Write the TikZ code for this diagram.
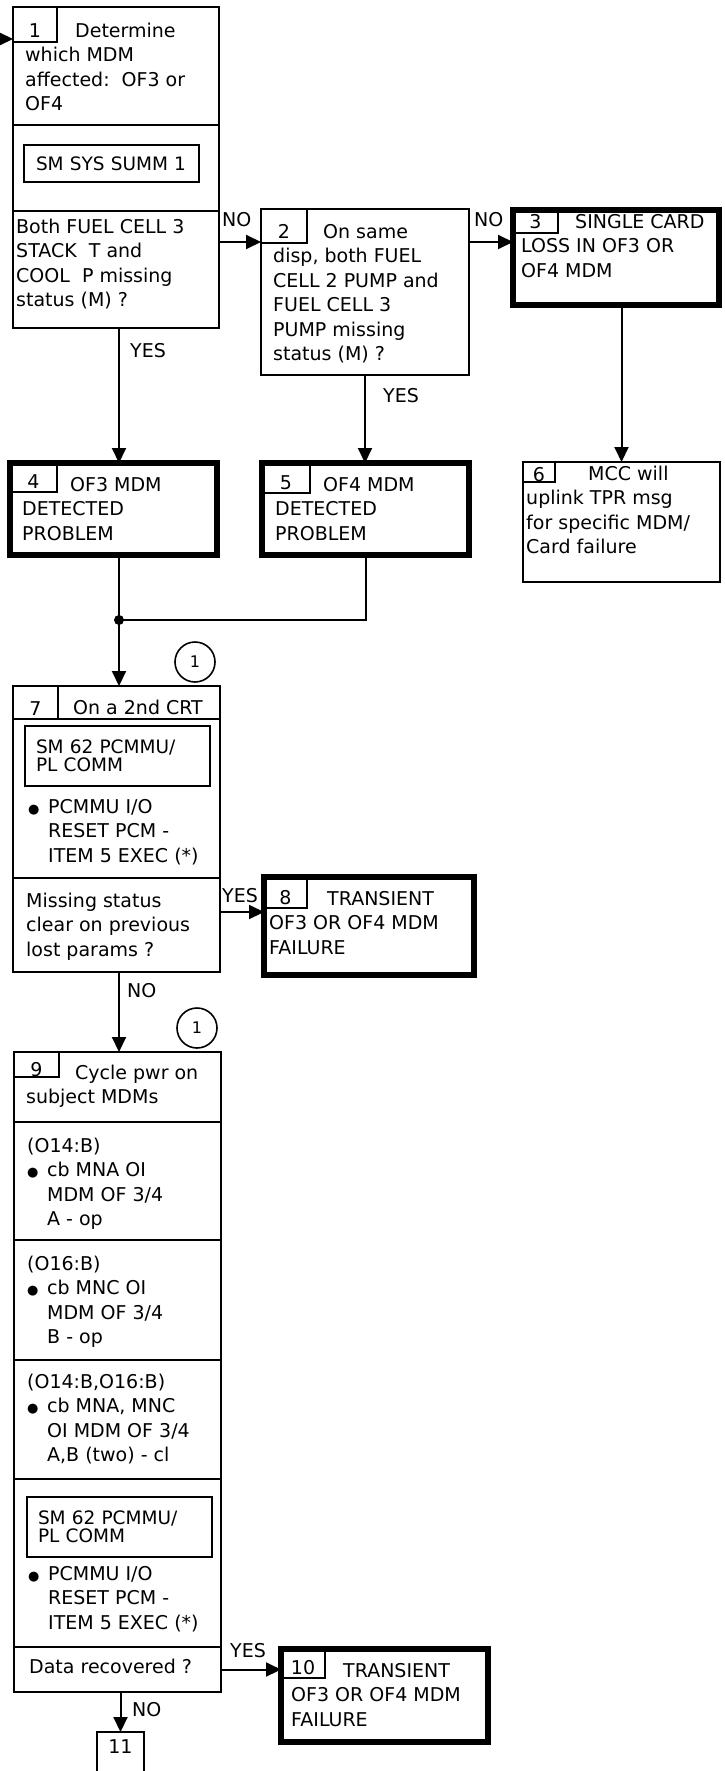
\documentclass[tikz,border=0pt]{standalone}
\usepackage{fontspec}
\setmainfont{DejaVu Sans}
\usepackage{tikz}
\usetikzlibrary{arrows.meta,positioning}
\newcommand\bodyfont{\fontsize{19}{24.5}\selectfont}
\newcommand\scrfont{\fontsize{18.5}{18}\selectfont}
\newcommand\bulletmark{\makebox[20pt][l]{\fontsize{13}{13}\selectfont ●}}
\tikzset{
  box/.style={draw, line width=2pt, anchor=north west, inner sep=0pt, outer sep=0pt},
  endbox/.style={box, line width=6pt},
  tab/.style={draw, line width=1.6pt, anchor=north west, inner sep=0pt, outer sep=0pt, text depth=0pt, font=\bodyfont},
  txt/.style={anchor=north west, inner sep=0pt, align=left, font=\bodyfont},
  scr/.style={draw, line width=2pt, inner xsep=8pt, inner ysep=0pt, align=left, font=\scrfont},
  lbl/.style={anchor=south west, inner sep=0pt, font=\bodyfont},
  ref/.style={draw, circle, line width=1.6pt, minimum size=40pt, inner sep=0pt, font=\fontsize{16}{16}\selectfont},
  link/.style={line width=2pt, -{Triangle[length=15pt,width=14pt]}}
}
\begin{document}
\begin{tikzpicture}[x=1pt,y=-1pt]
\useasboundingbox (0,0) rectangle (724,1771);

% 1: which MDM
\node[box, minimum width=206pt, minimum height=118pt] (b1a) at (13,7) {};
\node[box, below=0pt of b1a, minimum width=206pt, minimum height=86pt] (b1b) {};
\node[box, below=0pt of b1b, minimum width=206pt, minimum height=117pt] (b1c) {};
\node[tab, minimum width=44pt, minimum height=35pt, text height=27pt] (n1) at (b1a.north west) {1};
\node[txt] (t1a) at (25,20) {\strut\hspace*{50pt}Determine\\which MDM\\affected:\ \ OF3 or\\OF4};
\node[scr, minimum width=175pt, minimum height=37pt, text width=159pt] (s1) at (111.5,163.5) {\hspace*{4pt}SM SYS SUMM 1};
\node[txt] (t1c) at (16,216) {\strut Both FUEL CELL 3\\STACK\ \ T and\\COOL\ \ P missing\\status (M) ?};

% 2: same disp check
\node[box, minimum width=208pt, minimum height=166pt] (b2) at (261,209) {};
\node[tab, minimum width=46pt, minimum height=34pt, text height=26pt] (n2) at (b2.north west) {2};
\node[txt] (t2) at (273,221) {\strut\hspace*{50pt}On same\\disp, both FUEL\\CELL 2 PUMP and\\FUEL CELL 3\\PUMP missing\\status (M) ?};

% 3: single card
\node[endbox, minimum width=206pt, minimum height=95pt] (b3) at (513,210) {};
\node[tab, minimum width=45pt, minimum height=23pt, text height=15pt] (n3) at (b3.north west) {3};
\node[txt] (t3) at (521,211) {\strut\hspace*{54pt}SINGLE CARD\\LOSS IN OF3 OR\\OF4 MDM};

% 6: MCC uplink
\node[box, minimum width=197pt, minimum height=120pt] (b6) at (523,462) {};
\node[tab, minimum width=32pt, minimum height=20pt, text height=18pt] (n6) at (b6.north west) {6};
\node[txt] (t6) at (526,463) {\strut\hspace*{62pt}MCC will\\uplink TPR msg\\for specific MDM/\\Card failure};

% 4, 5: detected
\node[endbox, minimum width=207pt, minimum height=92pt] (b4) at (10,463) {};
\node[tab, minimum width=47pt, minimum height=29pt, text height=21pt] (n4) at (b4.north west) {4};
\node[txt] (t4) at (22,474) {\strut\hspace*{48pt}OF3 MDM\\DETECTED\\PROBLEM};
\node[endbox, minimum width=207pt, minimum height=92pt] (b5) at (262,463) {};
\node[tab, minimum width=48pt, minimum height=30pt, text height=22pt] (n5) at (b5.north west) {5};
\node[txt] (t5) at (275,474) {\strut\hspace*{48pt}OF4 MDM\\DETECTED\\PROBLEM};

% 7: 2nd CRT
\node[box, minimum width=207pt, minimum height=33pt] (b7a) at (13,686) {};
\node[box, below=0pt of b7a, minimum width=207pt, minimum height=159pt] (b7b) {};
\node[box, below=0pt of b7b, minimum width=207pt, minimum height=94pt] (b7c) {};
\node[tab, minimum width=45pt, minimum height=33pt, text height=25pt] (n7) at (b7a.north west) {7};
\node[txt] (t7a) at (73,697) {\strut On a 2nd CRT};
\node[ref] (c1) at (195,662) {1};
\node[scr, minimum width=185pt, minimum height=60pt, text width=169pt] (s2) at (117.5,756) {\hspace*{3pt}SM 62 PCMMU/\\\hspace*{3pt}PL COMM};
\node[txt] (t7b) at (28,796) {\strut\bulletmark PCMMU I/O\\\hspace*{20pt}RESET PCM -\\\hspace*{20pt}ITEM 5 EXEC (*)};
\node[txt] (t7c) at (26,890) {\strut Missing status\\clear on previous\\lost params ?};

% 8: transient
\node[endbox, minimum width=210pt, minimum height=98pt] (b8) at (264,877) {};
\node[tab, minimum width=43pt, minimum height=31pt, text height=23pt] (n8) at (b8.north west) {8};
\node[txt] (t8) at (269,888) {\strut\hspace*{58pt}TRANSIENT\\OF3 OR OF4 MDM\\FAILURE};

% 9: cycle power
\node[box, minimum width=207pt, minimum height=70pt] (b9a) at (14,1052) {};
\node[box, below=0pt of b9a, minimum width=207pt, minimum height=118pt] (b9b) {};
\node[box, below=0pt of b9b, minimum width=207pt, minimum height=120pt] (b9c) {};
\node[box, below=0pt of b9c, minimum width=207pt, minimum height=119pt] (b9d) {};
\node[box, below=0pt of b9d, minimum width=207pt, minimum height=168pt] (b9e) {};
\node[box, below=0pt of b9e, minimum width=207pt, minimum height=45pt] (b9f) {};
\node[tab, minimum width=45pt, minimum height=25pt, text height=23pt] (n9) at (b9a.north west) {9};
\node[ref] (c2) at (197,1028) {1};
\node[txt] (t9a) at (26,1062) {\strut\hspace*{49pt}Cycle pwr on\\subject MDMs};
\node[txt] (t9b) at (27,1135) {\strut(O14:B)\\\bulletmark cb MNA OI\\\hspace*{20pt}MDM OF 3/4\\\hspace*{20pt}A - op};
\node[txt] (t9c) at (27,1253) {\strut(O16:B)\\\bulletmark cb MNC OI\\\hspace*{20pt}MDM OF 3/4\\\hspace*{20pt}B - op};
\node[txt] (t9d) at (27,1371) {\strut(O14:B,O16:B)\\\bulletmark cb MNA, MNC\\\hspace*{20pt}OI MDM OF 3/4\\\hspace*{20pt}A,B (two) - cl};
\node[scr, minimum width=185pt, minimum height=60pt, text width=169pt] (s3) at (119.5,1527) {\hspace*{3pt}SM 62 PCMMU/\\\hspace*{3pt}PL COMM};
\node[txt] (t9e) at (28,1563) {\strut\bulletmark PCMMU I/O\\\hspace*{20pt}RESET PCM -\\\hspace*{20pt}ITEM 5 EXEC (*)};
\node[txt] (t9f) at (29,1656) {\strut Data recovered ?};

% 10, 11
\node[endbox, minimum width=207pt, minimum height=93pt] (b10) at (281,1649) {};
\node[tab, minimum width=44pt, minimum height=29pt, text height=21pt] (n10) at (b10.north west) {10};
\node[txt] (t10) at (291,1660) {\strut\hspace*{52pt}TRANSIENT\\OF3 OR OF4 MDM\\FAILURE};
\node[box, minimum width=47pt, minimum height=40pt, text height=13pt, text depth=10pt, font=\bodyfont] (b11) at (97,1732) {11};

% connectors
\coordinate (in) at (0,39);
\coordinate (r1) at (0,242);
\coordinate (r2) at (0,912);
\coordinate (j) at (119,620);
\draw[link] (in) -- (in -| b1a.west);
\draw[link] (b1c.east |- r1) -- (b2.west |- r1);
\draw[link] (b2.east |- r1) -- (b3.west |- r1);
\draw[link] (b1c.south -| j) -- (b4.north -| j);
\draw[link] (b2.south) -- (b2.south |- b5.north);
\draw[link] (b6.north |- b3.south) -- (b6.north);
\draw[line width=2pt] (b4.south -| j) -- (j);
\draw[line width=2pt] (b5.south) |- (j);
\fill (j) circle (5pt);
\draw[link] (j) -- (b7a.north -| j);
\draw[link] (b7c.east |- r2) -- (b8.west |- r2);
\draw[link] (b7c.south -| j) -- (b9a.north -| j);
\draw[link] (b9f.east) -- (b9f.east -| b10.west);
\draw[link] (b9f.south -| b11.north) -- (b11.north);

% yes / no
\node[lbl] (no1) at (222,227) {NO};
\node[lbl] (no2) at (474,227) {NO};
\node[lbl] (yes1) at (130,358) {YES};
\node[lbl] (yes2) at (383,403) {YES};
\node[lbl] (yes3) at (222,903) {YES};
\node[lbl] (no3) at (127,998) {NO};
\node[lbl] (yes4) at (230,1658) {YES};
\node[lbl] (no4) at (132,1717) {NO};
\end{tikzpicture}
\end{document}
